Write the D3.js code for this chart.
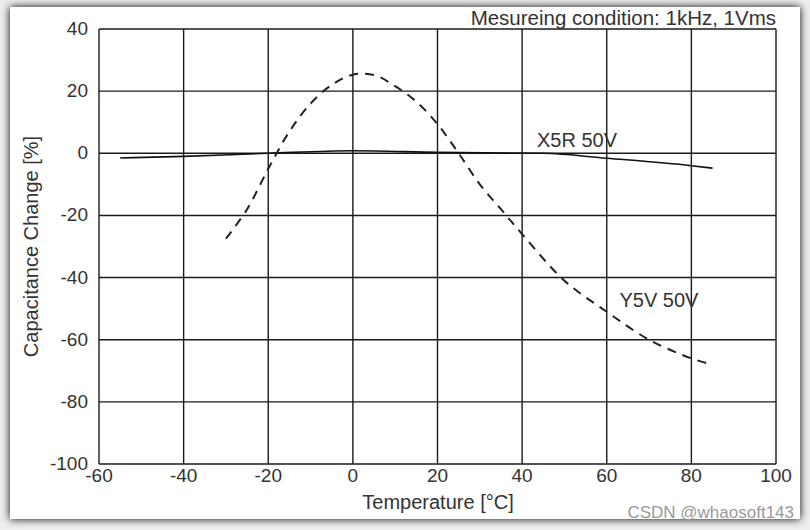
<!DOCTYPE html>
<html>
<head>
<meta charset="utf-8">
<script src="https://cdn.jsdelivr.net/npm/d3@7"></script>
<style>
  body { margin: 0; background: #eeeeee; }
  svg { display: block; font-family: "Liberation Sans", Arial, sans-serif; }
</style>
</head>
<body>
<script>
// data
var xTicks = [-60, -40, -20, 0, 20, 40, 60, 80, 100];
var yTicks = [40, 20, 0, -20, -40, -60, -80, -100];

var x5rTemp = [-55, -40, -20, 0, 20, 45, 60, 80, 85];
var x5rVal = [-1.5, -1, 0, 0.8, 0.3, 0, -1.6, -4, -4.8];

var y5vTemp = [-30, -25, -20, -15, -10, -5, 0, 5, 10, 15, 20, 25, 30, 35, 40, 50, 60, 70, 80, 85];
var y5vVal = [-27.5, -18, -5, 7, 16, 22, 25.3, 25.2, 21.6, 16.6, 9.4, 0, -10, -18, -26, -41, -51, -60, -66, -68];

var w = 810, h = 530;

var svg = d3.select("body").append("svg")
    .attr("width", w)
    .attr("height", h);

var defs = svg.append("defs");
var filter = defs.append("filter").attr("id", "shadow")
    .attr("x", "-5%").attr("y", "-5%").attr("width", "110%").attr("height", "110%");
filter.append("feGaussianBlur").attr("in", "SourceAlpha").attr("stdDeviation", 4);
var merge = filter.append("feMerge");
merge.append("feMergeNode");
merge.append("feMergeNode").attr("in", "SourceGraphic");

// white card
svg.append("rect")
    .attr("x", 10).attr("y", 7)
    .attr("width", 790).attr("height", 512)
    .attr("fill", "#fff")
    .attr("filter", "url(#shadow)");

var x = d3.scaleLinear().domain([-60, 100]).range([99, 776]);
var y = d3.scaleLinear().domain([-100, 40]).range([464, 29]);

// grid
svg.append("g").selectAll("line")
    .data(xTicks)
    .enter().append("line")
    .attr("x1", function (d) { return x(d); })
    .attr("x2", function (d) { return x(d); })
    .attr("y1", y(40)).attr("y2", y(-100))
    .attr("stroke", "#1a1a1a").attr("stroke-width", 1.4);

svg.append("g").selectAll("line")
    .data(yTicks)
    .enter().append("line")
    .attr("x1", x(-60)).attr("x2", x(100))
    .attr("y1", function (d) { return y(d); })
    .attr("y2", function (d) { return y(d); })
    .attr("stroke", "#1a1a1a").attr("stroke-width", 1.4);

// tick labels
svg.append("g").selectAll("text")
    .data(yTicks)
    .enter().append("text")
    .attr("x", x(-60) - 11)
    .attr("y", function (d) { return y(d) + 6; })
    .attr("text-anchor", "end")
    .attr("font-size", 19)
    .attr("fill", "#333")
    .text(function (d) { return d; });

svg.append("g").selectAll("text")
    .data(xTicks)
    .enter().append("text")
    .attr("x", function (d) { return x(d); })
    .attr("y", y(-100) + 18)
    .attr("text-anchor", "middle")
    .attr("font-size", 19)
    .attr("fill", "#333")
    .text(function (d) { return d; });

// curves
var line = d3.line()
    .x(function (d) { return x(d[0]); })
    .y(function (d) { return y(d[1]); })
    .curve(d3.curveMonotoneX);

svg.append("path")
    .datum(d3.zip(x5rTemp, x5rVal))
    .attr("d", line)
    .attr("fill", "none")
    .attr("stroke", "#111")
    .attr("stroke-width", 1.6);

svg.append("path")
    .datum(d3.zip(y5vTemp, y5vVal))
    .attr("d", d3.line()
        .x(function (d) { return x(d[0]); })
        .y(function (d) { return y(d[1]); })
        .curve(d3.curveCatmullRom))
    .attr("fill", "none")
    .attr("stroke", "#222")
    .attr("stroke-width", 2)
    .attr("stroke-dasharray", "9,7");

// series labels
svg.append("text")
    .attr("x", x(43.5)).attr("y", y(2))
    .attr("font-size", 20).attr("fill", "#333")
    .text("X5R 50V");

svg.append("text")
    .attr("x", x(63)).attr("y", y(-49.5))
    .attr("font-size", 20).attr("fill", "#333")
    .text("Y5V 50V");

// titles
svg.append("text")
    .attr("x", 776).attr("y", 25)
    .attr("text-anchor", "end")
    .attr("font-size", 20.5).attr("fill", "#333")
    .text("Mesureing condition: 1kHz, 1Vms");

svg.append("text")
    .attr("x", 438).attr("y", 509)
    .attr("text-anchor", "middle")
    .attr("font-size", 20).attr("fill", "#333")
    .text("Temperature [°C]");

svg.append("text")
    .attr("transform", "translate(38," + y(-30) + ") rotate(-90)")
    .attr("text-anchor", "middle")
    .attr("font-size", 20).attr("fill", "#333")
    .text("Capacitance Change [%]");

// watermark
svg.append("text")
    .attr("x", 794).attr("y", 518)
    .attr("text-anchor", "end")
    .attr("font-size", 17).attr("fill", "#999")
    .text("CSDN @whaosoft143");
</script>
</body>
</html>
